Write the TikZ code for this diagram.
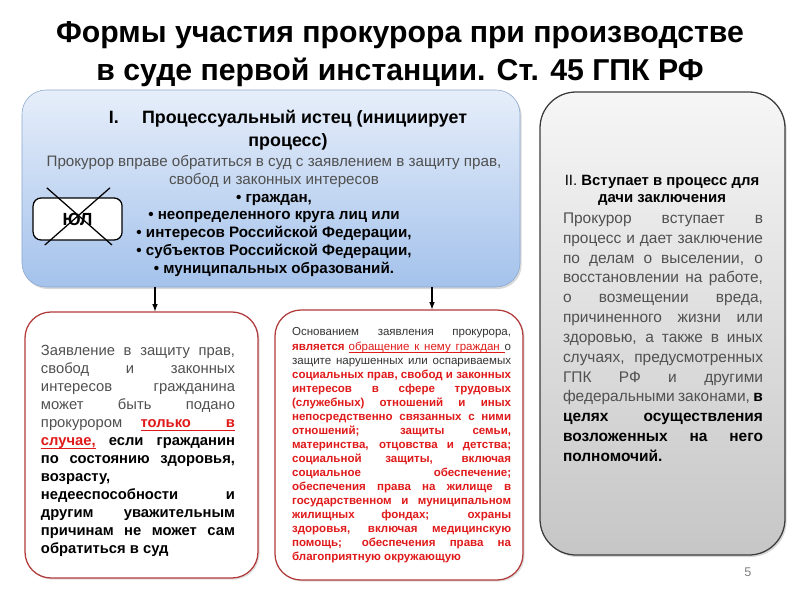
\documentclass[tikz,border=0pt]{standalone}
\usepackage{fontspec}
\setmainfont{Liberation Sans}
\usetikzlibrary{positioning, shadows, calc}

\definecolor{blueTop}{HTML}{E6EEFA}
\definecolor{blueBottom}{HTML}{A4C2EB}
\definecolor{blueBorder}{HTML}{8CA8D0}
\definecolor{greyTop}{HTML}{F6F6F6}
\definecolor{greyBottom}{HTML}{C6C6C6}
\definecolor{greyBorder}{HTML}{3C3C3C}
\definecolor{redBorder}{HTML}{B23B3B}
\definecolor{redText}{HTML}{E01A1A}
\definecolor{textGrey}{HTML}{505050}
\definecolor{textDark}{HTML}{333333}

% underlined word and underlined stretchable space
\newcommand{\ulword}[1]{\setbox0=\hbox{#1}\rlap{\rule[-2pt]{\wd0}{0.6pt}}\box0}
\newcommand{\ulsp}{\leaders\hrule height -1.4pt depth 2pt\hskip 0.28em plus 0.3em minus 0.08em\relax}
\newcommand{\redbf}[1]{\textcolor{redText}{\textbf{#1}}}

\begin{document}
\begin{tikzpicture}[
	redbox/.style={draw=redBorder, line width=0.9pt, rounded corners=0.65cm, fill=white,
		drop shadow={opacity=0.25, shadow xshift=0.4mm, shadow yshift=-0.4mm}},
	bodytext/.style={inner sep=0pt, align=justify, text=textGrey}
	]
	
	\useasboundingbox (0,0) rectangle (20,-15);
	
	%Title
	\node (title) at (10,-1.36) [align=center, font=\bfseries\fontsize{21.5}{27}\selectfont]
	{Формы участия прокурора при производстве\\в суде первой инстанции. Ст. 45 ГПК РФ};
	
	%Plaintiff block
	\node (procBox) at (6.775,-4.7125) [draw=blueBorder, rounded corners=0.6cm, top color=blueTop, 
	bottom color=blueBottom, minimum width=12.45cm, minimum height=4.925cm,
	drop shadow={opacity=0.3, shadow xshift=0.4mm, shadow yshift=-0.5mm}]{};
	
	\node (procHead) at (7.2,-3.25) [align=center, font=\bfseries\fontsize{12.7}{16}\selectfont]
	{I.\hspace{1.3em}Процессуальный истец (инициирует\\процесс)};
	\node (procText) at (6.85,-5.4) [align=center, text=textGrey, font=\fontsize{10.8}{12.8}\selectfont]
	{Прокурор вправе обратиться в суд с заявлением в защиту прав,\\
		свобод и законных интересов\\
		\textcolor{black}{\textbf{• граждан,}}\\
		\textcolor{black}{\textbf{• неопределенного круга лиц или}}\\
		\textcolor{black}{\textbf{• интересов Российской Федерации,}}\\
		\textcolor{black}{\textbf{• субъектов Российской Федерации,}}\\
		\textcolor{black}{\textbf{• муниципальных образований.}}};
	
	%Legal entity crossed out
	\node (ulBox) at (1.94,-5.475) [draw, line width=0.9pt, rounded corners=0.2cm, fill=white, 
	minimum width=2.225cm, minimum height=1.05cm, font=\bfseries\fontsize{12.5}{14}\selectfont]{ЮЛ};
	\draw[line width=0.9pt] ([shift={(-0.77,0.78)}]ulBox.center) -- ([shift={(0.86,-0.65)}]ulBox.center);
	\draw[line width=0.9pt] ([shift={(0.81,0.78)}]ulBox.center) -- ([shift={(-0.82,-0.65)}]ulBox.center);
	
	%Conclusion block
	\node (partBox) at (16.5625,-8.0875) [draw=greyBorder, line width=0.9pt, rounded corners=0.9cm, 
	top color=greyTop, bottom color=greyBottom, minimum width=6.125cm, minimum height=11.575cm,
	drop shadow={opacity=0.3, shadow xshift=0.4mm, shadow yshift=-0.5mm}]{};
	
	\node (partHead) at (16.55,-4.75) [align=center, font=\fontsize{10.6}{12.2}\selectfont]
	{II. \textbf{Вступает в процесс для}\\\textbf{дачи заключения}};
	\node (partText) at (16.575,-8.43) [bodytext, text width=5cm, font=\fontsize{11}{14.1}\selectfont]
	{Прокурор вступает в\linebreak процесс и дает заключение\linebreak по делам о выселении, о\linebreak
		восстановлении на работе,\linebreak о возмещении вреда,\linebreak причиненного жизни или\linebreak
		здоровью, а также в иных\linebreak случаях, предусмотренных\linebreak ГПК РФ и другими\linebreak
		федеральными законами, \textcolor{black}{\textbf{в\linebreak целях осуществления\linebreak
				возложенных на него\linebreak полномочий.}}};
	
	%Claim block
	\node (leftBox) at (3.5375,-11.125) [redbox, minimum width=5.825cm, minimum height=6.65cm]{};
	\node (claimText) at (3.45,-11.275) [bodytext, text width=4.85cm, font=\fontsize{10.5}{12.8}\selectfont]
	{Заявление в защиту прав,\linebreak свобод и законных\linebreak интересов гражданина\linebreak
		может быть подано\linebreak прокурором \redbf{\ulword{только}\ulsp\ulword{в}}\linebreak
		\redbf{\ulword{случае,}} \textcolor{black}{\textbf{если гражданин\linebreak по состоянию здоровья,\linebreak 
				возрасту,\linebreak недееспособности и\linebreak другим уважительным\linebreak 
				причинам не может сам\linebreak обратиться в суд}}};
	
	%Basis block
	\node (midBox) at (9.975,-11.125) [redbox, minimum width=6.2cm, minimum height=6.75cm]{};
	\node (basisText) at (10.04,-11.14) [bodytext, text=textDark, text width=5.475cm, 
	font=\fontsize{8.2}{10}\selectfont]
	{Основанием заявления прокурора,\linebreak \redbf{является} \textcolor{redText}{\ulword{обращение}\ulsp
		\ulword{к}\ulsp\ulword{нему}\ulsp\ulword{граждан}\ulsp}о\linebreak
		защите нарушенных или оспариваемых\linebreak \redbf{социальных прав, свобод и законных\linebreak
			интересов в сфере трудовых\linebreak (служебных) отношений и иных\linebreak
			непосредственно связанных с ними\linebreak отношений; защиты семьи,\linebreak
			материнства, отцовства и детства;\linebreak социальной защиты, включая\linebreak
			социальное обеспечение;\linebreak обеспечения права на жилище в\linebreak
			государственном и муниципальном\linebreak жилищных фондах; охраны\linebreak
			здоровья, включая медицинскую\linebreak помощь; обеспечения права на\linebreak
			благоприятную окружающую}};
	
	%Links
	\coordinate (outLeft) at (3.875,-7.175);
	\coordinate (outMid) at (10.8,-7.175);
	\draw[-latex, line width=0.8pt] (outLeft) -- (outLeft |- leftBox.north);
	\draw[-latex, line width=0.8pt] (outMid) -- (outMid |- midBox.north);
	
	%Page number
	\node (pageNum) at (18.7,-14.3) [text=gray, font=\fontsize{9}{10}\selectfont]{5};
	
\end{tikzpicture}
\end{document}
